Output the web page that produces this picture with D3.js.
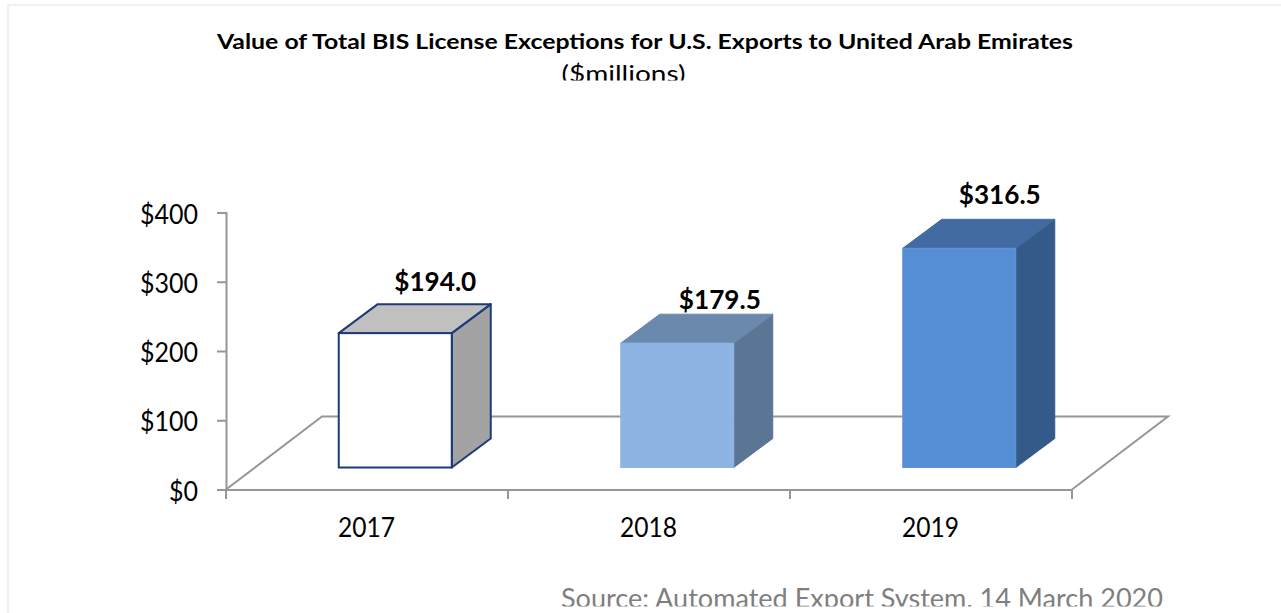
<!DOCTYPE html>
<html><head><meta charset="utf-8">
<script src="https://cdn.jsdelivr.net/npm/d3@7"></script>
<style>
html,body{margin:0;padding:0;background:#fff;overflow:hidden}
svg{display:block}
text{font-family:"Lato",sans-serif;fill:#000}
</style></head><body>
<svg id="c" width="1281" height="613"></svg>
<script>
const categories = ["2017","2018","2019"];
const values = [194.0,179.5,316.5];
const valueLabels = ["$194.0","$179.5","$316.5"];
const yTicks = [0,100,200,300,400];
const frontFills = ["#ffffff","#8eb4e3","#558ed5"];
const topFills = ["#c0c0c0","#6b88ad","#416ba1"];
const sideFills = ["#a3a3a3","#5b7594","#345a89"];
const strokes = ["#1f3a78","#8eb4e3","#5f94d8"];
const labelOffsets = [[40,-42],[42.6,-34],[40.5,-44]];

const svg = d3.select("#c");
const axisColor = "#969696";
const y = d3.scaleLinear().domain([0,400]).range([489.5,212.5]);
const x = d3.scaleBand().domain(categories).range([226,1072]);
const floorDx=96, floorDy=-73, barDx=39, barDy=-29, barW=113, barInset=112.75, baseLift=22;

// frame
svg.append("path").attr("d","M8,613V5H1281").attr("fill","none").attr("stroke","#f0f0f0").attr("stroke-width",2);

// clips
const defs=svg.append("defs");
defs.append("clipPath").attr("id","tc").append("rect").attr("x",0).attr("y",0).attr("width",1281).attr("height",80.5);
defs.append("clipPath").attr("id","sc").append("rect").attr("x",0).attr("y",570).attr("width",1281).attr("height",36.5);

// title
svg.append("text").attr("x",645).attr("y",48.5).attr("text-anchor","middle").attr("font-weight",700)
  .attr("font-size",20).attr("textLength",856).attr("lengthAdjust","spacingAndGlyphs")
  .text("Value of Total BIS License Exceptions for U.S. Exports to United Arab Emirates");
svg.append("g").attr("clip-path","url(#tc)").append("text").attr("x",623.5).attr("y",82).attr("text-anchor","middle")
  .attr("font-size",24).attr("textLength",124).attr("lengthAdjust","spacingAndGlyphs").text("($millions)");

// floor
const y0=y(0), x0=x.range()[0], x1=x.range()[1];
svg.append("path").attr("fill","none").attr("stroke",axisColor).attr("stroke-width",2)
  .attr("d",`M${x0},${y0}L${x0+floorDx},${y0+floorDy}H${x1+floorDx}L${x1},${y0}`);

// axes
const yAxis=d3.axisLeft(y).tickValues(yTicks).tickSize(9).tickFormat(d=>"$"+d);
const gy=svg.append("g").attr("transform",`translate(${x0},0)`).call(yAxis);
const xAxis=d3.axisBottom(x).tickSize(0);
const gx=svg.append("g").attr("transform",`translate(0,${y0})`).call(xAxis);
[gy,gx].forEach(g=>{g.selectAll(".domain").attr("stroke",axisColor).attr("stroke-width",2);
  g.selectAll(".tick line").attr("stroke",axisColor).attr("stroke-width",2);
  g.attr("font-family",null).attr("font-size",null);});
gy.selectAll("text").attr("font-size",27).attr("x",-28).attr("dy",10.5).attr("textLength",58).attr("lengthAdjust","spacingAndGlyphs");
gy.selectAll(".tick").filter(d=>d===0).select("text").attr("textLength",29);
gx.selectAll(".tick text").attr("font-size",26).attr("y",47).attr("dy",0).attr("textLength",57).attr("lengthAdjust","spacingAndGlyphs")
  .attr("x",-0.5);
gx.selectAll(".boundary").data([...categories.map(c=>x(c)),x1]).enter().append("line").attr("class","boundary")
  .attr("x1",d=>d).attr("x2",d=>d).attr("y1",0).attr("y2",9.5).attr("stroke",axisColor).attr("stroke-width",2);

// bars
const bars=svg.selectAll(".bar").data(categories.map((c,i)=>({c,v:values[i],i}))).enter().append("g").attr("class","bar");
const bx=d=>x(d.c)+barInset, base=y0-baseLift, barTop=d=>base-(y0-y(d.v));
const sw=d=>d.i===0?2:1;
bars.append("path").attr("fill",d=>sideFills[d.i]).attr("stroke",d=>d.i===0?strokes[0]:sideFills[d.i]).attr("stroke-width",sw).attr("stroke-linejoin","round")
  .attr("d",d=>{const r=bx(d)+barW;return `M${r},${base}V${barTop(d)}l${barDx},${barDy}V${base+barDy}Z`;});
bars.append("path").attr("fill",d=>topFills[d.i]).attr("stroke",d=>d.i===0?strokes[0]:topFills[d.i]).attr("stroke-width",sw).attr("stroke-linejoin","round")
  .attr("d",d=>{const l=bx(d);return `M${l},${barTop(d)}l${barDx},${barDy}h${barW}l${-barDx},${-barDy}Z`;});
bars.append("rect").attr("x",bx).attr("y",barTop).attr("width",barW).attr("height",d=>base-barTop(d))
  .attr("fill",d=>frontFills[d.i]).attr("stroke",d=>strokes[d.i]).attr("stroke-width",sw);
bars.append("text").attr("x",d=>bx(d)+barW/2+labelOffsets[d.i][0]).attr("y",d=>barTop(d)+labelOffsets[d.i][1])
  .attr("text-anchor","middle").attr("font-weight",700).attr("font-size",26).attr("textLength",82).attr("lengthAdjust","spacingAndGlyphs")
  .text(d=>valueLabels[d.i]);

// source
svg.append("g").attr("clip-path","url(#sc)").append("text").attr("x",862).attr("y",607.5).attr("text-anchor","middle")
  .attr("font-size",26).attr("textLength",602).attr("lengthAdjust","spacingAndGlyphs").style("fill","#7f7f7f")
  .text("Source: Automated Export System, 14 March 2020");
</script></body></html>
